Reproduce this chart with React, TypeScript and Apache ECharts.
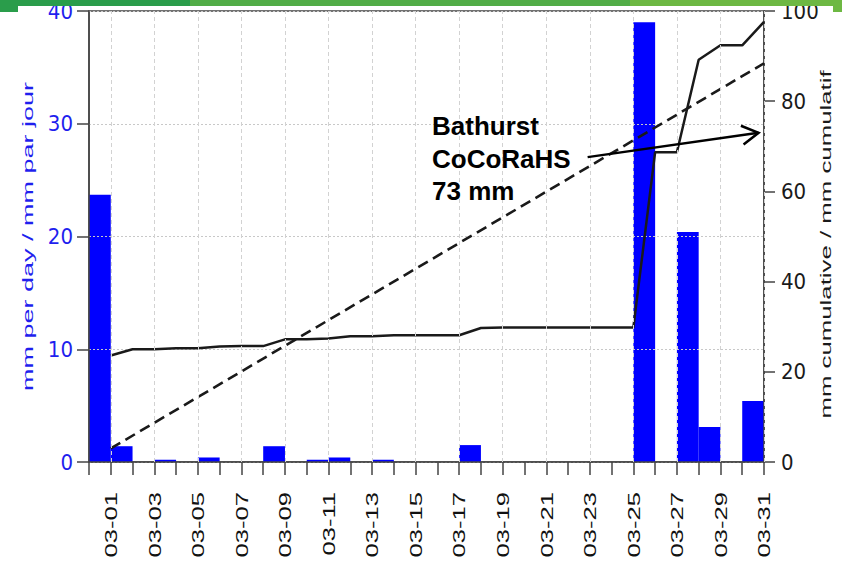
import React, { useEffect, useRef } from "react";
import * as echarts from "echarts";

// ---- data ----
const days = [1, 2, 3, 4, 5, 6, 7, 8, 9, 10, 11, 12, 13, 14, 15, 16, 17, 18, 19, 20, 21, 22, 23, 24, 25, 26, 27, 28, 29, 30, 31];
const dailyMm = [23.7, 1.4, 0, 0.2, 0, 0.4, 0, 0, 1.4, 0, 0.2, 0.4, 0, 0.2, 0, 0, 0, 1.5, 0, 0, 0, 0, 0, 0, 0, 39.0, 0, 20.4, 3.1, 0, 5.4];
const cumulativeMm = [23.6, 25.0, 25.0, 25.2, 25.2, 25.6, 25.7, 25.7, 27.2, 27.2, 27.4, 27.9, 27.9, 28.1, 28.1, 28.1, 28.1, 29.7, 29.8, 29.8, 29.8, 29.8, 29.8, 29.8, 29.8, 68.7, 68.7, 89.2, 92.4, 92.4, 97.6];
const normalDays = [1, 31];
const normalCumulative = [3.0, 88.4];
const labelDays = [1, 3, 5, 7, 9, 11, 13, 15, 17, 19, 21, 23, 25, 27, 29, 31];
const tickLabels = ["03-01", "03-03", "03-05", "03-07", "03-09", "03-11", "03-13", "03-15", "03-17", "03-19", "03-21", "03-23", "03-25", "03-27", "03-29", "03-31"];
const annotationLines = ["Bathurst", "CoCoRaHS", "73 mm"];
const annotationValue = 73;
const arrowStart = [22.9, 67.6];
const arrowTipDay = 30.75;

const BLUE = "#0000ff";
const INK = "#1a1a1a";
const AXIS = "#444444";
const NARROW = "'Liberation Sans Narrow', 'DejaVu Sans Condensed', 'Liberation Sans', sans-serif";
const SANS = "'Liberation Sans', Arial, sans-serif";

export default function App() {
  const ref = useRef<HTMLDivElement>(null);

  useEffect(() => {
    const chart = echarts.init(ref.current as HTMLDivElement, null, { renderer: "svg" });
    chart.setOption({
      animation: false,
      backgroundColor: "#ffffff",
      grid: { left: 89, right: 78, top: 11, bottom: 106, show: true, borderColor: AXIS, borderWidth: 1.5, backgroundColor: "transparent" },
      xAxis: {
        type: "value",
        min: 0,
        max: 31,
        interval: 1,
        z: 2,
        axisLine: { show: true, onZero: false, lineStyle: { color: AXIS, width: 1.5 } },
        axisTick: { show: true, length: 13, lineStyle: { color: AXIS, width: 1.5 } },
        axisLabel: { show: false },
        splitLine: { show: false },
      },
      yAxis: [
        {
          type: "value",
          position: "left",
          min: 0,
          max: 40,
          interval: 10,
          z: 2,
          axisLine: { show: true, lineStyle: { color: AXIS, width: 1.5 } },
          axisTick: { show: true, length: 12, lineStyle: { color: AXIS, width: 1.5 } },
          axisLabel: { color: "#1f1fee", fontSize: 22, fontFamily: NARROW, margin: 16 },
          splitLine: { show: true, lineStyle: { type: [2, 2], color: "#c8c8c8", width: 1 } },
        },
        {
          type: "value",
          position: "right",
          min: 0,
          max: 100,
          interval: 20,
          z: 2,
          axisLine: { show: true, lineStyle: { color: AXIS, width: 1.5 } },
          axisTick: { show: true, length: 11, lineStyle: { color: AXIS, width: 1.5 } },
          axisLabel: { color: INK, fontSize: 22, fontFamily: NARROW, margin: 17 },
          splitLine: { show: false },
        },
      ],
      series: [
        {
          type: "custom",
          name: "daily",
          xAxisIndex: 0,
          yAxisIndex: 0,
          z: 1,
          data: days.map((d, i) => [d, dailyMm[i]]),
          encode: { x: 0, y: 1 },
          renderItem: (params: any, api: any) => {
            const d = api.value(0);
            const v = api.value(1);
            const p0 = api.coord([d - 1, v]);
            const p1 = api.coord([d, 0]);
            return {
              type: "rect",
              shape: { x: p0[0], y: p0[1], width: p1[0] - p0[0], height: p1[1] - p0[1] },
              style: { fill: BLUE },
            };
          },
        },
        {
          type: "line",
          name: "grid",
          xAxisIndex: 0,
          yAxisIndex: 0,
          z: 2,
          data: [],
          markLine: {
            silent: true,
            symbol: "none",
            label: { show: false },
            lineStyle: { type: [4, 3], color: "#d2d2d2", width: 1 },
            data: labelDays.map((d) => ({ xAxis: d })),
          },
        },
        {
          type: "line",
          name: "normal",
          xAxisIndex: 0,
          yAxisIndex: 1,
          z: 3,
          symbol: "none",
          data: normalDays.map((d, i) => [d, normalCumulative[i]]),
          lineStyle: { color: INK, width: 2.6, type: [11, 6] },
        },
        {
          type: "line",
          name: "cumulative",
          xAxisIndex: 0,
          yAxisIndex: 1,
          z: 4,
          symbol: "none",
          data: days.map((d, i) => [d, cumulativeMm[i]]),
          lineStyle: { color: INK, width: 2.5 },
        },
      ],
    });

    const xPx = (d: number) => chart.convertToPixel({ xAxisIndex: 0 }, d) as number;
    const yLeft = (v: number) => chart.convertToPixel({ yAxisIndex: 0 }, v) as number;
    const yRight = (v: number) => chart.convertToPixel({ yAxisIndex: 1 }, v) as number;

    const bottom = yLeft(0);
    const midY = (yLeft(0) + yLeft(40)) / 2;
    const graphics: any[] = [];

    // green banner at top
    graphics.push(
      { type: "rect", z: 100, silent: true, shape: { x: 0, y: 0, width: 190, height: 6 }, style: { fill: "#2a9d4b" } },
      { type: "rect", z: 100, silent: true, shape: { x: 190, y: 0, width: 440, height: 6 }, style: { fill: "#52ad47" } },
      { type: "rect", z: 100, silent: true, shape: { x: 630, y: 0, width: 212, height: 6 }, style: { fill: "#6db843" } },
      { type: "rect", z: 100, silent: true, shape: { x: 0, y: 0, width: 18, height: 12 }, style: { fill: "#2a9d4b" } },
      { type: "rect", z: 100, silent: true, shape: { x: 833, y: 0, width: 9, height: 12 }, style: { fill: "#6db843" } }
    );

    // x tick labels (rotated, stretched)
    labelDays.forEach((d, i) => {
      graphics.push({
        type: "text",
        silent: true,
        z: 10,
        x: xPx(d) + 1,
        y: bottom + 30,
        rotation: Math.PI / 2,
        scaleX: 1.6,
        scaleY: 1,
        style: {
          text: tickLabels[i],
          fontSize: 16,
          fontFamily: SANS,
          fill: "#111111",
          align: "right",
          verticalAlign: "middle",
          textAlign: "right",
          textVerticalAlign: "middle",
        },
      });
    });

    // axis titles
    graphics.push({
      type: "text",
      silent: true,
      z: 10,
      x: 28,
      y: midY,
      rotation: Math.PI / 2,
      scaleX: 1.8,
      scaleY: 1,
      style: {
        text: "mm per day / mm par jour",
        fontSize: 15,
        fontFamily: SANS,
        fill: "#1f1fee",
        align: "center",
        verticalAlign: "middle",
        textAlign: "center",
        textVerticalAlign: "middle",
      },
    });
    graphics.push({
      type: "text",
      silent: true,
      z: 10,
      x: 826,
      y: midY + 8,
      rotation: Math.PI / 2,
      scaleX: 1.72,
      scaleY: 1,
      style: {
        text: "mm cumulative / mm cumulatif",
        fontSize: 15,
        fontFamily: SANS,
        fill: INK,
        align: "center",
        verticalAlign: "middle",
        textAlign: "center",
        textVerticalAlign: "middle",
      },
    });

    // annotation text
    annotationLines.forEach((t, i) => {
      graphics.push({
        type: "text",
        silent: true,
        z: 20,
        x: 432,
        y: 126 + i * 32.5,
        style: {
          text: t,
          fontSize: 26,
          fontWeight: "bold",
          fontFamily: SANS,
          fill: "#000000",
          align: "left",
          verticalAlign: "middle",
          textAlign: "left",
          textVerticalAlign: "middle",
        },
      });
    });

    // arrow
    const sx = xPx(arrowStart[0]);
    const sy = yRight(arrowStart[1]);
    const tx = xPx(arrowTipDay);
    const ty = yRight(annotationValue);
    const len = Math.hypot(tx - sx, ty - sy);
    const ux = (tx - sx) / len;
    const uy = (ty - sy) / len;
    const arm = (ang: number) => {
      const c = Math.cos(ang);
      const s = Math.sin(ang);
      const rx = ux * c - uy * s;
      const ry = ux * s + uy * c;
      return [tx - 19 * rx, ty - 19 * ry];
    };
    graphics.push({
      type: "line",
      silent: true,
      z: 20,
      shape: { x1: sx, y1: sy, x2: tx, y2: ty },
      style: { stroke: "#000000", lineWidth: 2.5 },
    });
    graphics.push({
      type: "polyline",
      silent: true,
      z: 20,
      shape: { points: [arm(0.52), [tx, ty], arm(-0.52)] },
      style: { stroke: "#000000", lineWidth: 2.5, fill: "none" },
    });

    chart.setOption({ graphic: graphics });

    return () => chart.dispose();
  }, []);

  return (
    <div
      ref={ref}
      style={{ position: "fixed", left: 0, top: 0, width: 842, height: 568, background: "#ffffff" }}
    />
  );
}
